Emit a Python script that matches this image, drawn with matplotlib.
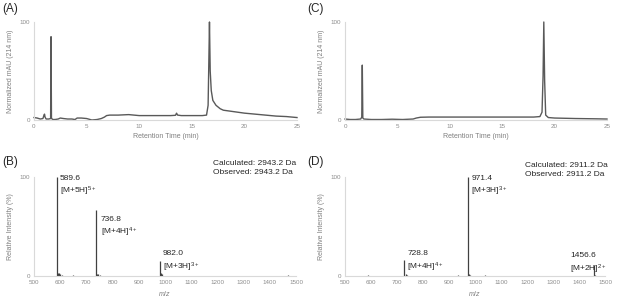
import matplotlib.pyplot as plt
import numpy as np

plt.rcParams['font.family'] = ['Liberation Sans', 'DejaVu Sans']
plt.rcParams['mathtext.fontset'] = 'custom'
plt.rcParams['mathtext.rm'] = 'Liberation Sans'
plt.rcParams['mathtext.it'] = 'Liberation Sans:italic'

# chromatogram (A)
timeA = [0, 0.3, 0.6, 0.85, 0.95, 1.0, 1.05, 1.15, 1.4, 1.58, 1.62, 1.66, 1.72, 1.8, 2.0, 2.3, 2.5, 2.8,
         3.2, 3.6, 3.9, 4.1, 4.5, 5.0, 5.5, 6.0, 6.4, 6.7, 6.9, 7.2, 8.0, 9.0, 10.0, 11.0, 12.0, 13.0,
         13.45, 13.55, 13.65, 14.0, 15.0, 16.0, 16.4, 16.55, 16.62, 16.68, 16.75, 16.85, 17.0, 17.3,
         17.7, 18.0, 19.0, 20.0, 21.0, 22.0, 23.0, 24.0, 25.0]
mauA = [2.5, 2, 1, 1.5, 5, 6, 3, 1, 1, 1.5, 85, 2, 1, 0.5, 0.5, 1, 2, 1.5,
        1, 1, 0.5, 2, 2, 1.5, 0, 0.5, 1.5, 3, 4.5, 5, 5, 5.5, 4.5, 4.5, 4.5, 4.5,
        4.8, 7, 5, 4.5, 4.5, 4.5, 5, 15, 60, 100, 50, 30, 20, 15,
        11.5, 10, 8.5, 7, 6, 5, 4, 3.5, 2.5]

# chromatogram (C)
timeC = [0, 0.5, 1.0, 1.5, 1.6, 1.65, 1.7, 1.8, 2.5, 3.5, 4.5, 5.5, 6.5, 6.8, 7.2, 8, 10, 12, 14, 16,
         18.0, 18.6, 18.8, 18.9, 18.97, 19.05, 19.15, 19.4, 20, 22, 24, 25]
mauC = [1, 0.5, 0.5, 1, 3, 56, 2, 1, 0.5, 0.5, 0.8, 0.5, 1, 2, 2.8, 3, 3, 3, 3, 3,
        3, 3.5, 8, 45, 100, 40, 5, 2.5, 2, 1.5, 1.2, 1]

# mass spectrum (B)
mzB = [560, 589.6, 592, 595, 600, 605, 650, 700, 736.8, 740, 745, 750, 800, 900, 982.0, 985, 990, 1100, 1300, 1470]
intB = [0.5, 100, 3, 3, 2, 1, 1, 0.5, 67, 2, 2, 1, 0.5, 0.5, 15, 3, 2, 0.5, 0.5, 1]

# mass spectrum (D)
mzD = [590, 650, 700, 728.8, 733, 738, 800, 900, 935, 971.4, 975, 980, 1040, 1200, 1456.6, 1460]
intD = [1, 0.5, 0.5, 16, 2, 1.5, 0.5, 0.5, 1, 100, 2, 1.5, 1, 0.5, 11, 1]

fig = plt.figure(figsize=(6.17, 2.99), dpi=100)
W, H = 617.0, 299.0

def make_ax(l, r, top, bot):
    ax = fig.add_axes([l / W, 1 - bot / H, (r - l) / W, (bot - top) / H])
    for s in ['top', 'right']:
        ax.spines[s].set_visible(False)
    for s in ['left', 'bottom']:
        ax.spines[s].set_color('#d9d9d9')
        ax.spines[s].set_linewidth(0.8)
    ax.tick_params(length=0, labelsize=4.5, labelcolor='#8c8c8c', pad=3)
    ax.set_ylim(0, 100)
    ax.set_yticks([0, 100])
    return ax

line_col = '#595959'
stick_col = '#404040'

axA = make_ax(34, 297, 22, 120)
axA.plot(timeA, mauA, color=line_col, lw=1.0, clip_on=False)
axA.set_xlim(0, 25)
axA.set_xticks([0, 5, 10, 15, 20, 25])
axA.set_xlabel('Retention Time (min)', fontsize=5, color='#7f7f7f', labelpad=3)
axA.set_ylabel('Normalized mAU (214 nm)', fontsize=5, color='#7f7f7f', labelpad=4)

axC = make_ax(345, 607, 22, 120)
axC.plot(timeC, mauC, color=line_col, lw=1.0, clip_on=False)
axC.set_xlim(0, 25)
axC.set_xticks([0, 5, 10, 15, 20, 25])
axC.set_xlabel('Retention Time (min)', fontsize=5, color='#7f7f7f', labelpad=3)
axC.set_ylabel('Normalized mAU (214 nm)', fontsize=5, color='#7f7f7f', labelpad=4)

axB = make_ax(34, 296, 177, 276)
axB.vlines(mzB, 0, intB, color=stick_col, lw=0.9, clip_on=False)
axB.set_xlim(500, 1500)
axB.set_xticks(range(500, 1501, 100))
axB.set_xlabel('$m/z$', fontsize=5, color='#7f7f7f', labelpad=3)
axB.set_ylabel('Relative Intensity (%)', fontsize=5, color='#7f7f7f', labelpad=4)

axD = make_ax(345, 605, 177, 276)
axD.vlines(mzD, 0, intD, color=stick_col, lw=0.9, clip_on=False)
axD.set_xlim(500, 1500)
axD.set_xticks(range(500, 1501, 100))
axD.set_xlabel('$m/z$', fontsize=5, color='#7f7f7f', labelpad=3)
axD.set_ylabel('Relative Intensity (%)', fontsize=5, color='#7f7f7f', labelpad=4)

# peak annotations
ann = dict(fontsize=6, color='#262626', va='top', ha='left', linespacing=1.35)
axB.text(599, 102, '589.6\n[M+5H]$^{5+}$', **ann)
axB.text(755, 61, '736.8\n[M+4H]$^{4+}$', **ann)
axB.text(992, 26, '982.0\n[M+3H]$^{3+}$', **ann)
axD.text(986, 102, '971.4\n[M+3H]$^{3+}$', **ann)
axD.text(740, 26, '728.8\n[M+4H]$^{4+}$', **ann)
axD.text(1367, 24, '1456.6\n[M+2H]$^{2+}$', **ann)

fig.text(213 / W, 1 - 160 / H, 'Calculated: 2943.2 Da\nObserved: 2943.2 Da',
         fontsize=6, color='#262626', va='top', ha='left', linespacing=1.3)
fig.text(525 / W, 1 - 162 / H, 'Calculated: 2911.2 Da\nObserved: 2911.2 Da',
         fontsize=6, color='#262626', va='top', ha='left', linespacing=1.3)

# panel letters
for lab, x, y in [('(A)', 2, 3), ('(C)', 307, 3), ('(B)', 2, 156), ('(D)', 307, 156)]:
    fig.text(x / W, 1 - y / H, lab, fontsize=8.5, color='#262626', va='top', ha='left')

fig.savefig('out.png', dpi=100)
